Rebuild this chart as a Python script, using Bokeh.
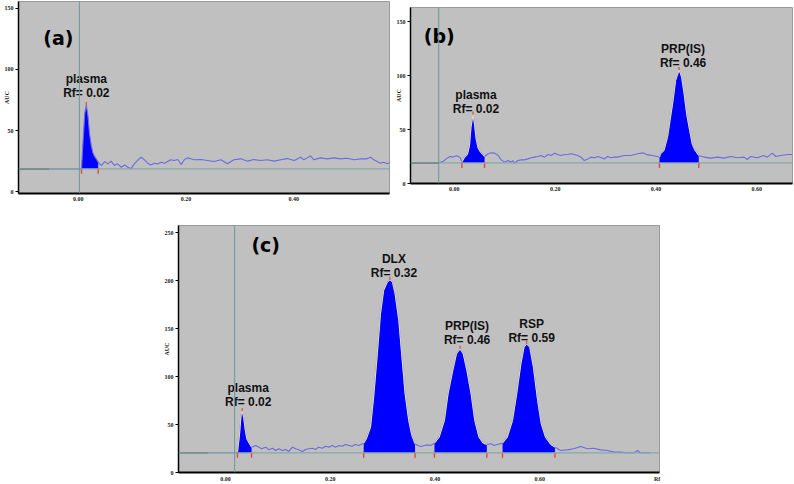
from bokeh.plotting import figure
from bokeh.layouts import column, row
from bokeh.models import (FixedTicker, PrintfTickFormatter, Span,
                          ColumnDataSource, Spacer)
from bokeh.embed import file_html
from bokeh.resources import INLINE
from bokeh.core.properties import value

# ------------------------------------------------------------------ data
# panel (a)
a_baseline = 18.6
a_start_line = 0.002
a_dark_end = -0.054
a_pre_rf = [-0.054, 0.002]
a_pre_auc = [18.6, 18.6]
a_pk1_rf = [0.006, 0.009, 0.012, 0.015, 0.018, 0.021, 0.024, 0.027, 0.030, 0.033, 0.037]
a_pk1_auc = [18.6, 42, 64, 71, 62, 47, 38, 32, 29, 27, 24]
a_n1_rf = [0.043, 0.049, 0.055, 0.061, 0.067, 0.073, 0.080, 0.086, 0.092,
           0.098, 0.104, 0.111, 0.117, 0.123, 0.129, 0.135, 0.141, 0.148, 0.154,
           0.160, 0.166, 0.172, 0.178, 0.185, 0.191, 0.197, 0.203, 0.209, 0.215,
           0.228, 0.240, 0.252, 0.265, 0.277, 0.289, 0.302, 0.314, 0.326, 0.339,
           0.351, 0.364, 0.376, 0.388, 0.401, 0.413, 0.419, 0.425, 0.431, 0.438,
           0.450, 0.462, 0.475, 0.487, 0.499, 0.512, 0.524, 0.536, 0.543, 0.549,
           0.561, 0.567, 0.574, 0.578]
a_n1_auc = [21.3, 24.6, 22.7, 24.9, 21.3, 22.7, 19.9, 21.8, 19.9,
            18.6, 22.7, 26.0, 28.1, 26.0, 23.2, 21.8, 23.2, 22.7, 24.0,
            23.2, 24.6, 26.0, 25.4, 26.2, 22.1, 26.0, 27.6, 26.8, 26.0,
            26.2, 25.4, 24.6, 26.0, 22.7, 26.0, 26.8, 24.9, 26.2, 25.4,
            26.0, 24.9, 26.0, 27.0, 25.4, 28.1, 26.0, 27.6, 29.2, 26.0,
            27.6, 26.8, 27.6, 26.8, 27.3, 26.0, 26.8, 26.8, 28.1, 26.0,
            23.2, 24.0, 22.7, 23.5]
a_names = ["plasma"]
a_rf_text = ["Rf= 0.02"]

# panel (b)
b_baseline = 19.1
b_start_line = -0.031
b_pre_rf = [-0.031, -0.022, -0.016, -0.009, -0.003, 0.004, 0.011, 0.015]
b_pre_auc = [19.1, 20.6, 22.8, 25.0, 24.4, 25.6, 24.4, 19.7]
b_pk1_rf = [0.015, 0.020, 0.026, 0.030, 0.033, 0.037, 0.040, 0.043, 0.047, 0.052, 0.056, 0.060]
b_pk1_auc = [20, 24, 27, 35, 52, 64, 55, 42, 33, 29, 27, 25]
b_n1_rf = [0.067, 0.073, 0.080, 0.087, 0.093, 0.100, 0.106, 0.113, 0.116, 0.119,
           0.126, 0.133, 0.139, 0.146, 0.152, 0.159, 0.166, 0.172, 0.179, 0.186,
           0.192, 0.199, 0.205, 0.212, 0.219, 0.225, 0.232, 0.238, 0.245, 0.251,
           0.258, 0.265, 0.271, 0.278, 0.285, 0.291, 0.298, 0.304, 0.311, 0.318,
           0.324, 0.337, 0.350, 0.364, 0.374, 0.384, 0.393, 0.403]
b_n1_auc = [27.5, 28.4, 28.1, 25.9, 21.9, 19.8, 21.3, 19.8, 21.3, 18.8,
            21.3, 21.9, 21.9, 22.8, 23.8, 24.4, 25.0, 25.9, 24.4, 26.9,
            25.9, 28.1, 26.9, 25.9, 26.9, 26.9, 27.5, 26.9, 25.9, 24.4,
            21.3, 22.8, 24.4, 23.8, 25.0, 23.8, 22.8, 25.0, 23.8, 24.4,
            24.4, 25.9, 25.9, 27.5, 28.4, 26.5, 25.9, 25.0]
b_pk2_rf = [0.407, 0.409, 0.416, 0.423, 0.428, 0.434, 0.439, 0.446, 0.451, 0.456,
            0.461, 0.467, 0.472, 0.477, 0.485]
b_pk2_auc = [24.4, 27.5, 30.6, 42.9, 58.3, 76.9, 95.4, 105.2, 98.5, 83.0,
             64.5, 49.0, 36.7, 31.2, 25.9]
b_n2_rf = [0.496, 0.509, 0.522, 0.535, 0.549, 0.562, 0.575, 0.581, 0.588, 0.601,
           0.614, 0.621, 0.631, 0.638, 0.648, 0.661, 0.671]
b_n2_auc = [24.4, 23.5, 24.4, 23.5, 25.0, 23.8, 24.4, 22.2, 25.0, 23.8,
            25.9, 24.4, 28.1, 25.0, 25.9, 26.9, 26.9]
b_names = ["plasma", "PRP(IS)"]
b_rf_text = ["Rf= 0.02", "Rf= 0.46"]

# panel (c)
c_baseline = 20.5
c_start_line = 0.0177
c_dark_end = -0.033
c_pre_rf = [-0.033, 0.0177]
c_pre_auc = [20.5, 20.5]
c_pk1_rf = [0.023, 0.027, 0.030, 0.032, 0.035, 0.038, 0.041, 0.046, 0.050]
c_pk1_auc = [20.5, 40, 60, 64, 57, 44, 35, 30, 26.4]
c_n1_rf = [0.058, 0.064, 0.069, 0.077, 0.083, 0.090, 0.096, 0.102, 0.109, 0.115,
           0.121, 0.128, 0.134, 0.140, 0.147, 0.153, 0.159, 0.166, 0.172, 0.178,
           0.185, 0.191, 0.198, 0.204, 0.210, 0.217, 0.223, 0.229, 0.236, 0.242,
           0.248, 0.255, 0.261]
c_n1_auc = [28.1, 26.4, 24.7, 26.4, 23.6, 25.3, 22.9, 24.7, 22.9, 24.0,
            21.9, 26.4, 24.7, 23.6, 21.9, 24.0, 24.7, 25.3, 24.0, 26.4,
            25.3, 27.4, 26.4, 28.1, 26.4, 28.1, 27.4, 29.2, 28.1, 27.4,
            29.2, 28.1, 29.9]
c_pk2_rf = [0.264, 0.269, 0.277, 0.283, 0.290, 0.296, 0.302, 0.309, 0.314, 0.319,
            0.324, 0.331, 0.337, 0.343, 0.350, 0.356, 0.362]
c_pk2_auc = [30.5, 35.1, 47.2, 78.5, 123.6, 165.3, 189.6, 198.3, 200.7, 198.3,
             186.1, 158.3, 120.1, 82.0, 54.2, 38.5, 29.9]
c_n2_rf = [0.367, 0.373, 0.380, 0.386, 0.392]
c_n2_auc = [28.1, 27.1, 28.1, 28.8, 28.1]
c_pk3_rf = [0.399, 0.408, 0.418, 0.425, 0.434, 0.441, 0.448, 0.454, 0.461, 0.469,
            0.476, 0.484, 0.492, 0.499]
c_pk3_auc = [30.6, 36.8, 54.2, 82.0, 106.3, 123.6, 128.8, 123.6, 106.3, 82.0,
             54.2, 36.8, 30.6, 29.2]
c_n3_rf = [0.507, 0.513, 0.519]
c_n3_auc = [29.9, 28.1, 29.2]
c_pk4_rf = [0.529, 0.538, 0.548, 0.556, 0.564, 0.570, 0.575, 0.581, 0.588, 0.596,
            0.603, 0.611, 0.621, 0.629]
c_pk4_auc = [30.6, 36.8, 54.2, 82.0, 113.2, 130.5, 134.0, 130.5, 109.7, 75.0,
             50.7, 36.8, 29.2, 26.4]
c_n4_rf = [0.640, 0.653, 0.665, 0.678, 0.691, 0.703, 0.716, 0.729, 0.742, 0.754,
           0.767, 0.780, 0.787, 0.792, 0.805, 0.811]
c_n4_auc = [22.9, 23.6, 24.7, 27.1, 24.7, 25.3, 23.6, 22.9, 21.2, 21.2,
            20.5, 20.5, 22.9, 20.5, 20.5, 20.5]
c_names = ["plasma", "DLX", "PRP(IS)", "RSP"]
c_rf_text = ["Rf= 0.02", "Rf= 0.32", "Rf= 0.46", "Rf= 0.59"]

y_ticks_ab = [0, 50, 100, 150]
y_ticks_c = [0, 50, 100, 150, 200, 250]
x_ticks_a = [0.0, 0.2, 0.4]
x_ticks_bc = [0.0, 0.2, 0.4, 0.6]
y_axis_title = "AUC"
x_axis_title = "Rf"
x_axis_title_pos_c = 0.824

# ------------------------------------------------------------------ style
BG = "#c0c0c0"
TRACE = "#6b6be2"
FILL = "#0000ff"
BASE_COL = "#86a8a8"
VLINE_COL = "#6a9898"
DARK = "#555555"
RED = "#e8443c"
EDGE = "#e6dfb8"
LABEL_FONT = value("Liberation Sans")


def make_fig(w, h, bl, br, bt, bb, xr, yr, xt, yt, xover=None):
    p = figure(width=w, height=h, x_range=xr, y_range=yr,
               output_backend="svg", toolbar_location=None,
               min_border_left=bl, min_border_right=br,
               min_border_top=bt, min_border_bottom=bb)
    p.background_fill_color = BG
    p.border_fill_color = "white"
    p.outline_line_color = "#9a9a9a"
    p.grid.visible = False
    ticks = list(xt)
    if xover:
        ticks += list(xover.keys())
    p.xaxis.ticker = FixedTicker(ticks=ticks)
    p.yaxis.ticker = FixedTicker(ticks=yt)
    p.xaxis.formatter = PrintfTickFormatter(format="%.2f")
    if xover:
        p.xaxis.major_label_overrides = xover
    for ax in p.axis:
        ax.major_label_text_font = "Liberation Serif"
        ax.major_label_text_font_size = "6px"
        ax.major_label_text_font_style = "bold"
        ax.major_label_text_color = "#222222"
        ax.minor_tick_line_color = None
        ax.minor_tick_out = 0
        ax.minor_tick_in = 0
        ax.axis_line_color = "black"
    p.xaxis.axis_line_width = 2
    p.xaxis.major_tick_line_color = None
    p.xaxis.major_tick_out = 0
    p.xaxis.major_tick_in = 0
    p.xaxis.major_label_standoff = 3
    p.yaxis.axis_line_width = 1.5
    p.yaxis.major_tick_out = 3
    p.yaxis.major_tick_in = 0
    p.yaxis.major_label_standoff = 2
    p.yaxis.axis_label = y_axis_title
    p.yaxis.axis_label_text_font = "Liberation Serif"
    p.yaxis.axis_label_text_font_size = "6px"
    p.yaxis.axis_label_text_font_style = "bold"
    p.yaxis.axis_label_text_color = "#222222"
    p.yaxis.axis_label_standoff = -8
    return p


def draw(p, frame_h, yr, base, start_line, dark_x0, dark_x1, pieces, peaks,
         names, rf_texts, lab_off, edge):
    ppu = frame_h / (yr[1] - yr[0])
    p.add_layout(Span(location=base, dimension="width", line_color=BASE_COL,
                      line_width=1.2))
    p.add_layout(Span(location=start_line, dimension="height",
                      line_color=VLINE_COL, line_width=1))
    p.line([dark_x0, dark_x1], [base, base], line_color=DARK, line_width=1.6)
    for rf, auc in peaks:
        p.varea(x=rf, y1=[base] * len(rf), y2=auc, fill_color=FILL)
    xs, ys = [], []
    for rf, auc in pieces:
        xs += rf
        ys += auc
    p.line(xs, ys, line_color=TRACE, line_width=1.1)
    if edge:
        for rf, auc in peaks:
            p.line(rf, auc, line_color=EDGE, line_width=1)
    # red integration marks
    sx, sy0, sy1 = [], [], []
    for rf, auc in peaks:
        for x in (rf[0], rf[-1]):
            sx.append(x)
            sy0.append(base + 1 / ppu)
            sy1.append(base - 5 / ppu)
    p.segment(x0=sx, y0=sy0, x1=sx, y1=sy1, line_color=RED, line_width=1.4)
    tx, ty = [], []
    for rf, auc in peaks:
        i = auc.index(max(auc))
        tx.append(rf[i])
        ty.append(auc[i])
    p.segment(x0=tx, y0=ty, x1=tx, y1=[t + 3 / ppu for t in ty],
              line_color=RED, line_width=1.2)
    # labels
    lx, ly, lt, xo, yo = [], [], [], [], []
    for k, (name, rft) in enumerate(zip(names, rf_texts)):
        dx, dy = lab_off[k]
        lx += [tx[k], tx[k]]
        ly += [ty[k], ty[k]]
        lt += [name, rft]
        xo += [dx, dx]
        yo += [dy - 14, dy]
    src = ColumnDataSource(dict(x=lx, y=ly, t=lt, xo=xo, yo=yo))
    p.text(x="x", y="y", text="t", x_offset="xo", y_offset="yo", source=src,
           text_font=LABEL_FONT, text_font_style="bold",
           text_font_size="12px", text_color="#111111",
           text_align="center", text_baseline="middle")


def letter(p, x, y, txt):
    p.text(x=[x], y=[y], text=[txt], text_font=value("DejaVu Sans"),
           text_font_style="bold", text_font_size="19px", text_color="black",
           text_align="center", text_baseline="middle")


# ------------------------------------------------------------------ panel a
a_xr = (-0.111, 0.578)
a_yr = (-1.6, 155.7)
pa = make_fig(392, 210, 17, 3, 1, 17, a_xr, a_yr, x_ticks_a, y_ticks_ab)
draw(pa, 192, a_yr, a_baseline, a_start_line, a_xr[0], a_dark_end,
     [(a_pre_rf, a_pre_auc), (a_pk1_rf, a_pk1_auc), (a_n1_rf, a_n1_auc)],
     [(a_pk1_rf, a_pk1_auc)], a_names, a_rf_text, [(0, -12)], False)
letter(pa, -0.037, 125.4, "(a)")

# ------------------------------------------------------------------ panel b
b_xr = (-0.087, 0.671)
b_yr = (0.0, 163.0)
pb = make_fig(402, 210, 17, 2, 7, 27, b_xr, b_yr, x_ticks_bc, y_ticks_ab)
draw(pb, 176, b_yr, b_baseline, b_start_line, b_xr[0], b_start_line,
     [(b_pre_rf, b_pre_auc), (b_pk1_rf, b_pk1_auc), (b_n1_rf, b_n1_auc),
      (b_pk2_rf, b_pk2_auc), (b_n2_rf, b_n2_auc)],
     [(b_pk1_rf, b_pk1_auc), (b_pk2_rf, b_pk2_auc)],
     b_names, b_rf_text, [(3, -5), (4, -7)], True)
letter(pb, -0.030, 137, "(b)")

# ------------------------------------------------------------------ panel c
c_xr = (-0.0895, 0.8286)
c_yr = (0.0, 257.3)
pc = make_fig(519, 274, 17, 20, 15, 12, c_xr, c_yr, x_ticks_bc, y_ticks_c,
              xover={x_axis_title_pos_c: x_axis_title})
draw(pc, 247, c_yr, c_baseline, c_start_line, c_xr[0], c_dark_end,
     [(c_pre_rf, c_pre_auc), (c_pk1_rf, c_pk1_auc), (c_n1_rf, c_n1_auc),
      (c_pk2_rf, c_pk2_auc), (c_n2_rf, c_n2_auc), (c_pk3_rf, c_pk3_auc),
      (c_n3_rf, c_n3_auc), (c_pk4_rf, c_pk4_auc), (c_n4_rf, c_n4_auc)],
     [(c_pk1_rf, c_pk1_auc), (c_pk2_rf, c_pk2_auc), (c_pk3_rf, c_pk3_auc),
      (c_pk4_rf, c_pk4_auc)],
     c_names, c_rf_text, [(6, -9), (4, -7), (7, -9), (5, -6)], True)
letter(pc, 0.077, 236.5, "(c)")

layout = column(row(column(pa), column(pb)),
                row(Spacer(width=160, height=274), pc))
open("out.html", "w").write(file_html(layout, INLINE))
